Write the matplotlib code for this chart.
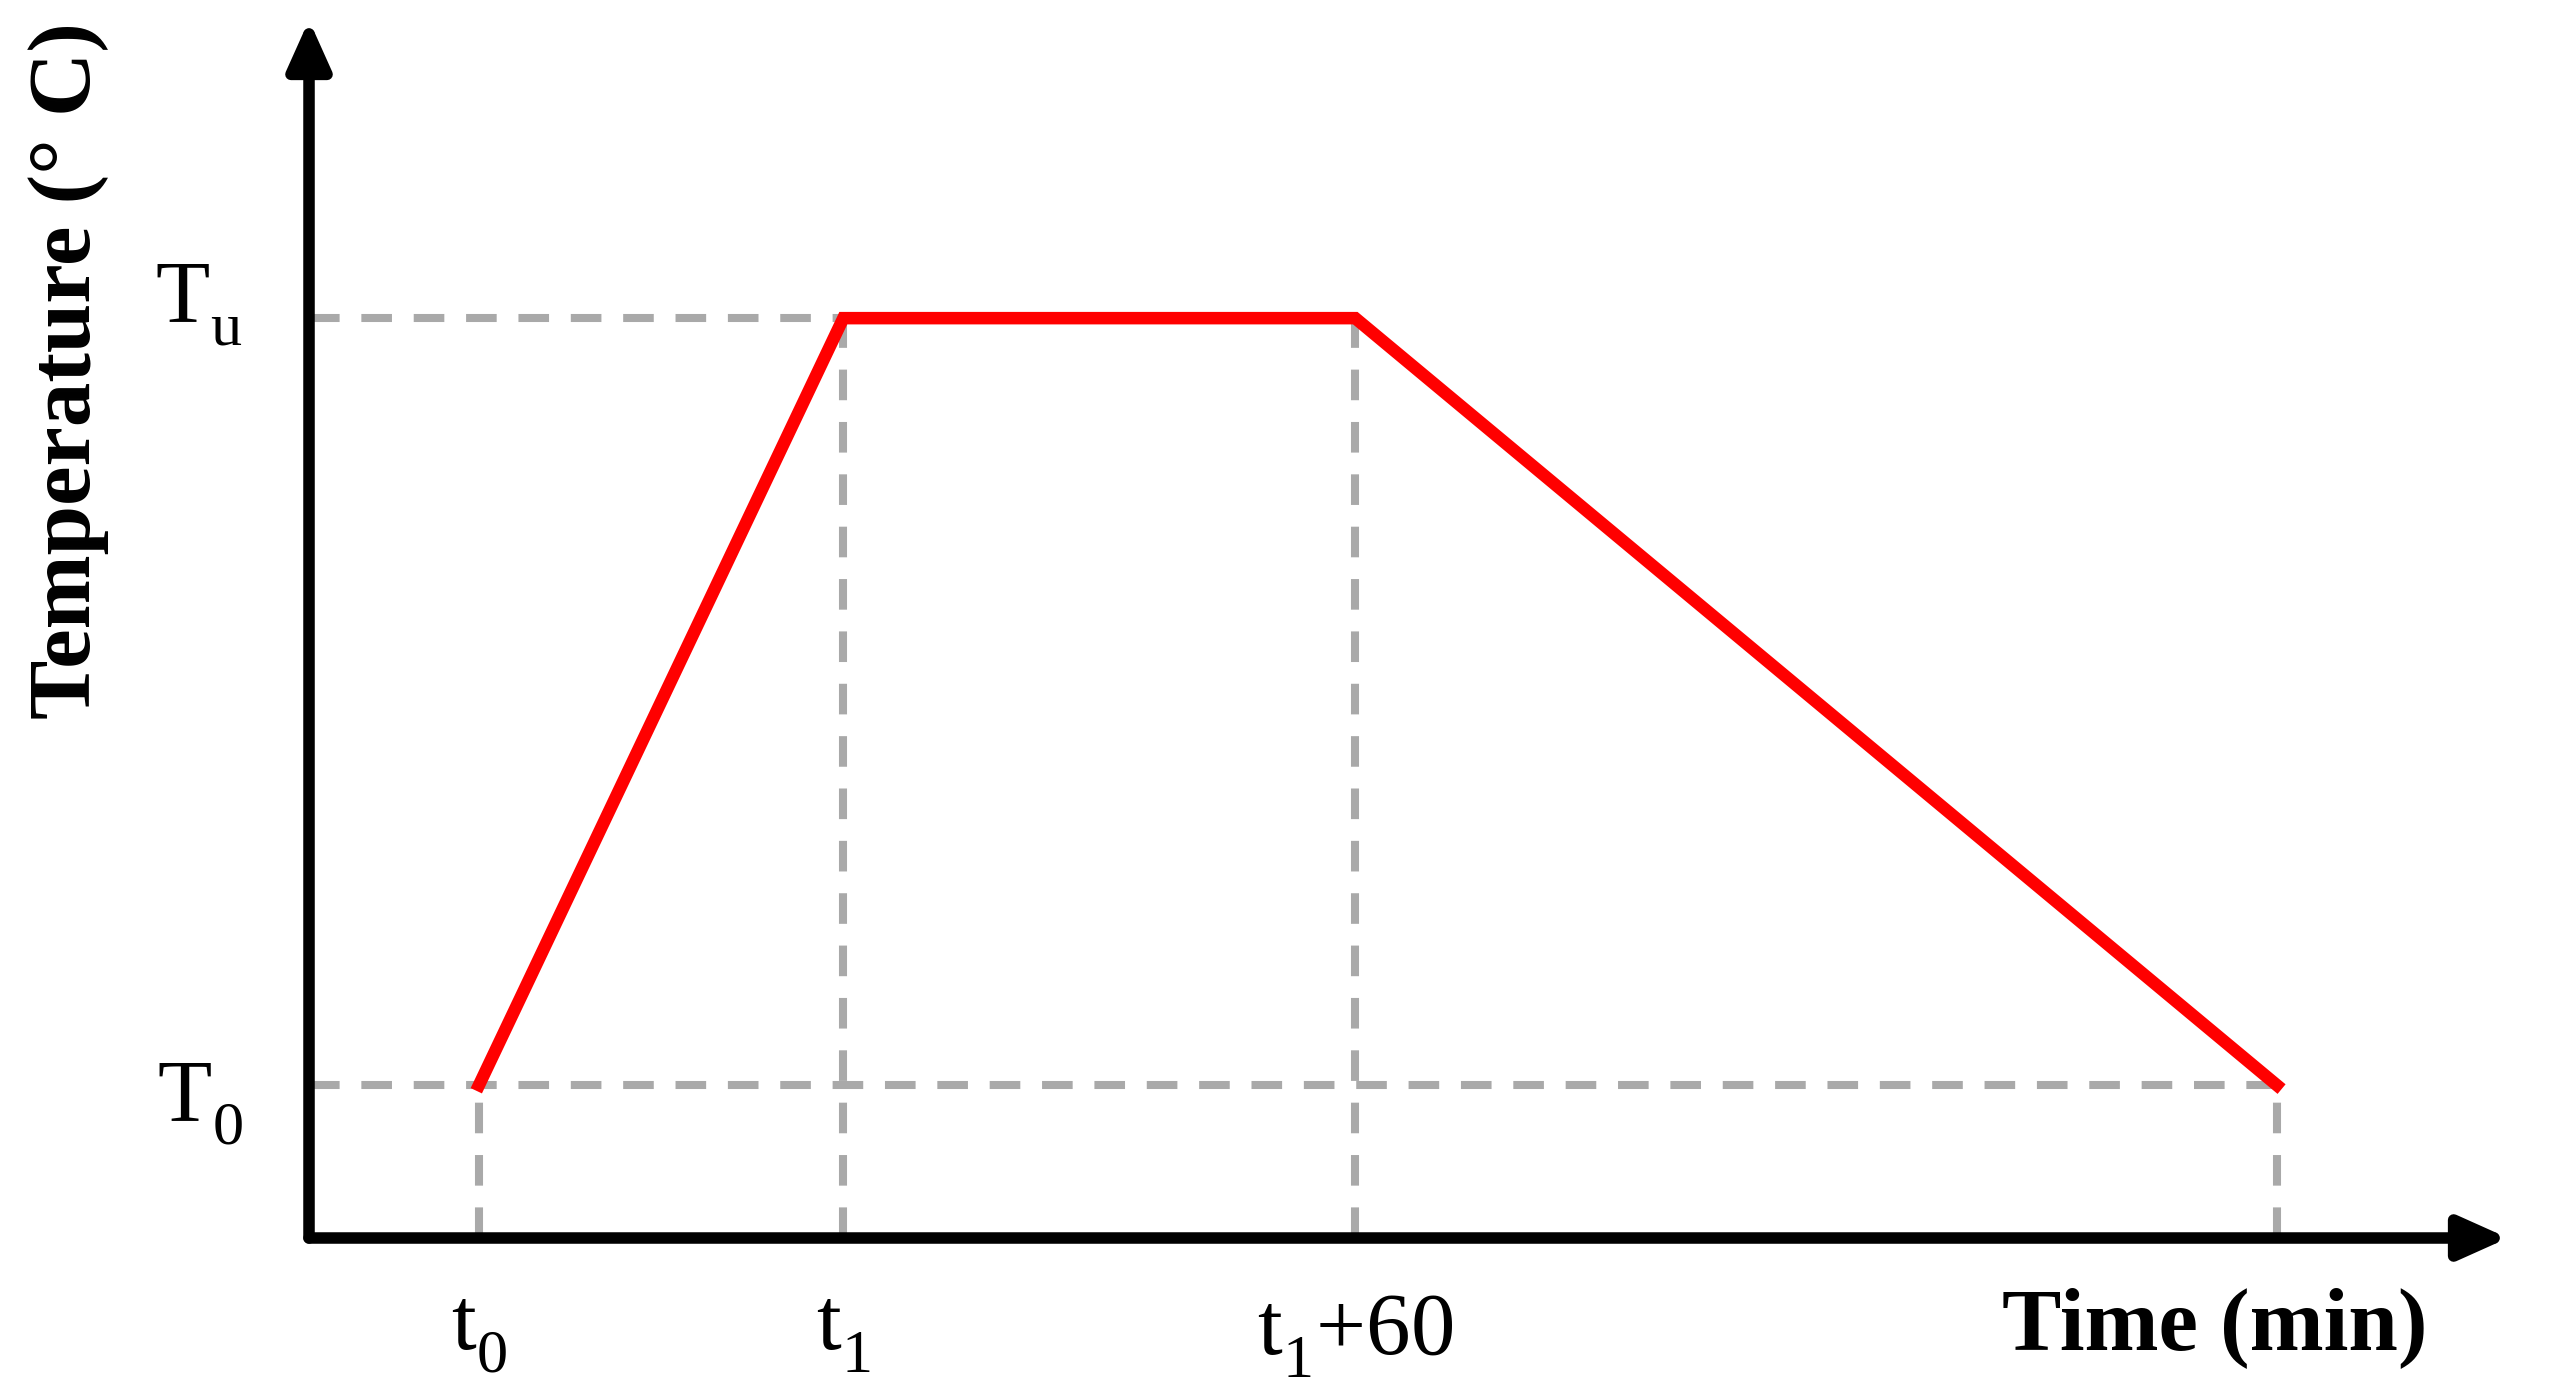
import matplotlib
matplotlib.use('Agg')
import matplotlib.pyplot as plt
import matplotlib._mathtext as mt
from matplotlib.transforms import ScaledTranslation

plt.rcParams['font.family'] = ['Liberation Serif', 'DejaVu Serif']
plt.rcParams['mathtext.fontset'] = 'custom'
plt.rcParams['mathtext.rm'] = 'Liberation Serif'
plt.rcParams['mathtext.it'] = 'Liberation Serif:italic'
plt.rcParams['mathtext.bf'] = 'Liberation Serif:bold'
# subscripts sit lower in the original drawing
mt.FontConstantsBase.sub1 = 0.58

### Data ###
# time in min (t0 = 0), temperature in arbitrary units
time_points = [0, 42.7, 102.7, 210.7]   # t0, t1, t1+60, end of cooling
temp_points = [20, 180, 180, 20]        # T0, Tu, Tu, T0
x_tick_pos = [0, 42.7, 102.7]
x_tick_labels = [r'$\mathrm{t_0}$', r'$\mathrm{t_1}$', r'$\mathrm{t_1}$+60']
y_tick_pos = [20, 180]
y_tick_labels = [r'$\mathrm{T_0}$', r'$\mathrm{T_u}$']

grey = '#A9A9A9'
dash = (3.8, 2.7)

fig = plt.figure(figsize=(25.5, 14), dpi=100)
ax = fig.add_axes([0.12118, 0.11571, 0.86235, 0.87])
ax.set_xlim(-19.92, 237.8)
ax.set_ylim(-11.9, 242.2)
x0, y0 = ax.get_xlim()[0], ax.get_ylim()[0]

# dashed guide lines
t_lo, t_up = temp_points[0], temp_points[1]
ax.plot([x0, time_points[1]], [t_up, t_up], color=grey, lw=5.8, dashes=dash, zorder=1)
ax.plot([x0, time_points[3]], [t_lo, t_lo], color=grey, lw=5.8, dashes=dash, zorder=1)
for t, T in zip(time_points, temp_points):
    ax.plot([t, t], [y0, T], color=grey, lw=5.8, dashes=dash, zorder=1)

# temperature profile
ax.plot(time_points, temp_points, color='red', lw=9, zorder=2, solid_joinstyle='miter')

# axes with arrows
for sp in ax.spines.values():
    sp.set_visible(False)
arrow = dict(arrowstyle='-|>,head_length=2.9,head_width=1.3', lw=8.3, color='black',
             shrinkA=0, shrinkB=0, mutation_scale=10)
ax.annotate('', xy=(1, 0), xytext=(0, 0), xycoords='axes fraction', arrowprops=arrow, zorder=3)
ax.annotate('', xy=(0, 1), xytext=(0, 0), xycoords='axes fraction', arrowprops=arrow, zorder=3)

ax.set_xticks(x_tick_pos)
ax.set_xticklabels(x_tick_labels)
ax.set_yticks(y_tick_pos)
ax.set_yticklabels(y_tick_labels)
ax.tick_params(axis='both', length=0, labelsize=64)
ax.tick_params(axis='x', pad=40)
ax.tick_params(axis='y', pad=48)

# y labels: baseline just under the guide line (T0 sits lower than Tu)
for lbl, dy in zip(ax.get_yticklabels(), [-0.36, -0.05]):
    lbl.set_va('baseline')
    lbl.set_transform(lbl.get_transform() + ScaledTranslation(0, dy, fig.dpi_scale_trans))

fig.text(0.0268, 0.735, 'Temperature (° C)', rotation=90, ha='center', va='center',
         fontsize=64, fontweight='bold')
fig.text(0.8686, 0.052, 'Time (min)', ha='center', va='center', fontsize=64, fontweight='bold')

plt.savefig('out.png', dpi=100)
